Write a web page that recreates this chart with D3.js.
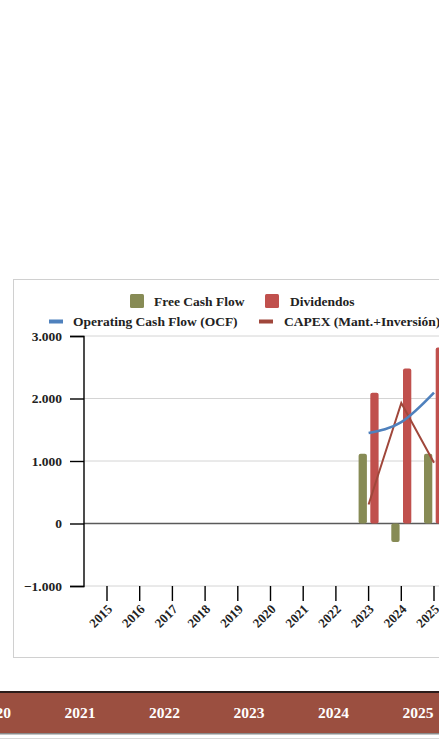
<!DOCTYPE html>
<html><head><meta charset="utf-8">
<script src="https://cdn.jsdelivr.net/npm/d3@7"></script>
<style>
html,body{margin:0;padding:0;background:#fff;overflow:hidden;}
svg{display:block;}
</style></head>
<body>
<svg id="c" width="439" height="740"></svg>
<script>
const years = [2015,2016,2017,2018,2019,2020,2021,2022,2023,2024,2025];
const freeCashFlow = [null,null,null,null,null,null,null,null,1117,-295,1117];
const dividendos = [null,null,null,null,null,null,null,null,2094,2482,2815];
const ocf = [null,null,null,null,null,null,null,null,1447,1623,2094];
const capex = [null,null,null,null,null,null,null,null,305,1928,973];
const yTicks = [-1000,0,1000,2000,3000];
const tableYears = [2020,2021,2022,2023,2024,2025];

const FONT = "'Liberation Serif','DejaVu Serif',serif";
const svg = d3.select("#c");

// chart frame
svg.append("rect").attr("x",13.5).attr("y",279.5).attr("width",500).attr("height",378)
  .attr("fill","#fff").attr("stroke","#d0d0d0").attr("stroke-width",1);

const x = d3.scaleLinear().domain([2015,2025]).range([107,434]);
const y = d3.scaleLinear().domain([-1000,3000]).range([586,336]);
const fmt = v => d3.format(",")(v).replace(/,/g,".");

// gridlines
svg.append("g").selectAll("line").data(yTicks).join("line")
  .attr("x1",84).attr("x2",520).attr("y1",d=>y(d)).attr("y2",d=>y(d))
  .attr("stroke",d=>d===0?"#5a5a5a":"#d4d4d4").attr("stroke-width",d=>d===0?1.3:1);

// y axis
const yAxis = d3.axisLeft(y).tickValues(yTicks).tickSize(14).tickFormat(fmt);
const gy = svg.append("g").attr("transform","translate(84,0)").call(yAxis);
gy.select(".domain").attr("stroke","#000").attr("stroke-width",1.4).attr("d","M-14,336.5H0V586.5H-14");
gy.selectAll(".tick line").attr("stroke","#000").attr("stroke-width",1.4);
gy.selectAll(".tick text").attr("font-family",FONT).attr("font-weight","bold")
  .attr("font-size",13.5).attr("fill","#222").attr("x",-22).attr("dy","0.32em");

// x axis ticks
const gx = svg.append("g");
gx.selectAll("line").data(years).join("line")
  .attr("x1",d=>x(d)).attr("x2",d=>x(d)).attr("y1",586).attr("y2",601)
  .attr("stroke","#000").attr("stroke-width",1.4);
gx.selectAll("text").data(years).join("text")
  .attr("transform",d=>`translate(${x(d)+6},${610}) rotate(-45)`)
  .attr("text-anchor","end").attr("font-family",FONT).attr("font-weight","bold")
  .attr("font-size",13).attr("fill","#222").text(d=>d);

// bars
const bw = 8.3;
const fcfData = years.map((yr,i)=>({yr,v:freeCashFlow[i]})).filter(d=>d.v!==null);
const divData = years.map((yr,i)=>({yr,v:dividendos[i]})).filter(d=>d.v!==null);
svg.append("g").selectAll("rect").data(fcfData).join("rect")
  .attr("x",d=>x(d.yr)-10).attr("width",bw)
  .attr("y",d=>Math.min(y(d.v),y(0))).attr("height",d=>Math.abs(y(d.v)-y(0)))
  .attr("rx",2).attr("fill","#878b55");
svg.append("g").selectAll("rect").data(divData).join("rect")
  .attr("x",d=>x(d.yr)+1.7).attr("width",bw)
  .attr("y",d=>Math.min(y(d.v),y(0))).attr("height",d=>Math.abs(y(d.v)-y(0)))
  .attr("rx",2).attr("fill","#c0504d");

// lines
const line = d3.line().defined(d=>d.v!==null).x(d=>x(d.yr)).y(d=>y(d.v));
svg.append("path").datum(years.map((yr,i)=>({yr,v:capex[i]})))
  .attr("d",line).attr("fill","none").attr("stroke","#a0473b").attr("stroke-width",2);
const lineC = d3.line().defined(d=>d.v!==null).x(d=>x(d.yr)).y(d=>y(d.v)).curve(d3.curveMonotoneX);
svg.append("path").datum(years.map((yr,i)=>({yr,v:ocf[i]})))
  .attr("d",lineC).attr("fill","none").attr("stroke","#4f81bd").attr("stroke-width",2.6);

// legend
const leg = svg.append("g").attr("font-family",FONT).attr("font-weight","bold")
  .attr("font-size",13.5).attr("fill","#222");
const legItems = [
  {type:"sq",c:"#878b55",t:"Free Cash Flow",sx:130,tx:154,ty:306},
  {type:"sq",c:"#c0504d",t:"Dividendos",sx:265,tx:290,ty:306},
  {type:"ln",c:"#4f81bd",t:"Operating Cash Flow (OCF)",sx:49,tx:73,ty:326},
  {type:"ln",c:"#a0473b",t:"CAPEX (Mant.+Inversión)",sx:259,tx:284,ty:326}
];
legItems.forEach(d=>{
  if(d.type==="sq") leg.append("rect").attr("x",d.sx).attr("y",294).attr("width",14).attr("height",14).attr("rx",1.5).attr("fill",d.c);
  else leg.append("rect").attr("x",d.sx).attr("y",319.5).attr("width",14).attr("height",4).attr("fill",d.c);
  leg.append("text").attr("x",d.tx).attr("y",d.ty).text(d.t);
});

// table header band
svg.append("rect").attr("x",0).attr("y",691).attr("width",439).attr("height",43).attr("fill","#9b4f40");
svg.append("rect").attr("x",0).attr("y",691).attr("width",439).attr("height",2).attr("fill","#2b1c1a");
svg.append("rect").attr("x",0).attr("y",733).attr("width",439).attr("height",1.5).attr("fill","#8a8a8a");
svg.append("rect").attr("x",0).attr("y",738).attr("width",439).attr("height",1).attr("fill","#d8d8d8");
const tx = d3.scaleLinear().domain([2021,2025]).range([80,418]);
svg.append("g").selectAll("text").data(tableYears).join("text")
  .attr("x",d=>tx(d)).attr("y",718).attr("text-anchor","middle")
  .attr("font-family",FONT).attr("font-weight","bold").attr("font-size",15.5).attr("fill","#fff")
  .text(d=>d);
</script>
</body></html>
